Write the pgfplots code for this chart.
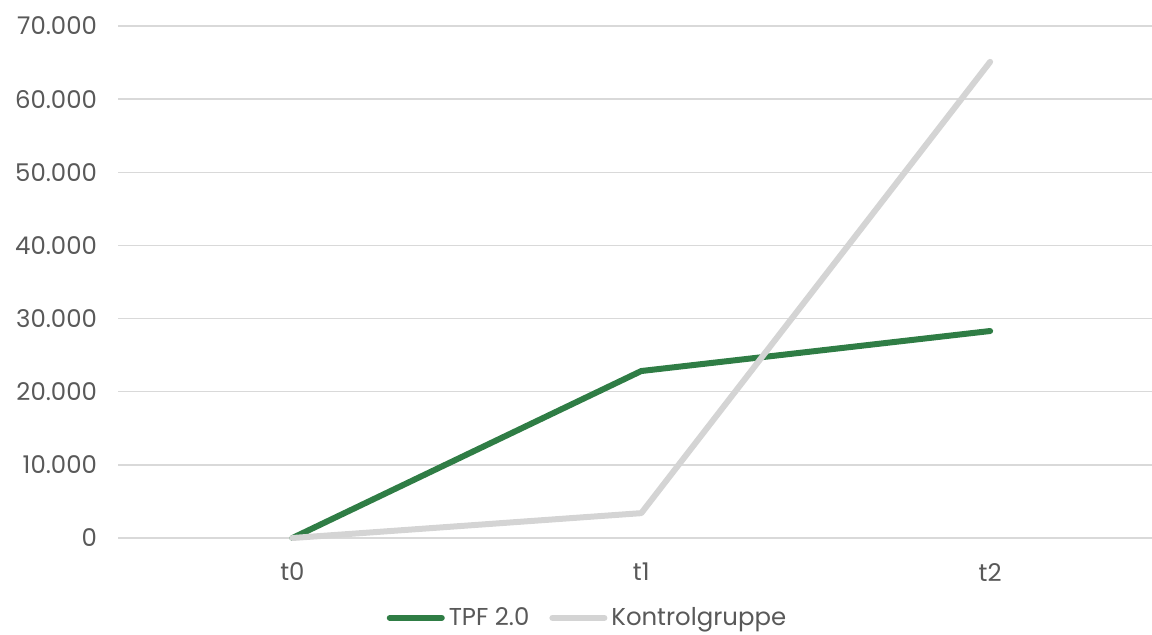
\documentclass[border=0pt]{standalone}
\usepackage{fontspec}
\setmainfont{Poppins}[Scale=1.0]
\usepackage{pgfplots}
\pgfplotsset{compat=1.18}
\definecolor{tpf}{HTML}{2F7D45}
\definecolor{kon}{HTML}{D4D4D4}
\definecolor{gridc}{HTML}{D9D9D9}
\definecolor{txt}{HTML}{595959}
\begin{document}
\begin{tikzpicture}
\useasboundingbox (0,0) rectangle (576pt,317pt);
\begin{axis}[
  at={(59pt,48pt)}, anchor=south west,
  scale only axis, width=517pt, height=256pt,
  xmin=-0.5, xmax=2.464, ymin=0, ymax=70000,
  xtick={0,1,2}, xticklabels={t0,t1,t2},
  ytick={0,10000,...,70000},
  axis line style={draw=none},
  tick style={draw=none},
  ymajorgrids, grid style={gridc, line width=0.7pt},
  /pgf/number format/1000 sep={.},
  /pgf/number format/assume math mode=true,
  scaled y ticks=false,
  ticklabel style={font=\fontsize{12.2}{14}\selectfont, text=txt},
  xticklabel style={yshift=-9pt},
  yticklabel style={xshift=-7pt},
  legend style={at={(0.455,-0.156)}, anchor=center, draw=none, legend columns=2,
    font=\fontsize{12.2}{14}\selectfont, text=txt,
    /tikz/every even column/.append style={column sep=8pt}, inner sep=0pt},
  legend image code/.code={\draw[#1] (0pt,0pt) -- (26pt,0pt);},
  clip=false,
]
\addplot[tpf, line width=3pt, line cap=round, line join=round] coordinates {(0,0) (1,22830) (2,28300)};
\addlegendentry{TPF 2.0}
\addplot[kon, line width=3pt, line cap=round, line join=round] coordinates {(0,0) (1,3400) (2,65100)};
\addlegendentry{Kontrolgruppe}
\end{axis}
\end{tikzpicture}
\end{document}
